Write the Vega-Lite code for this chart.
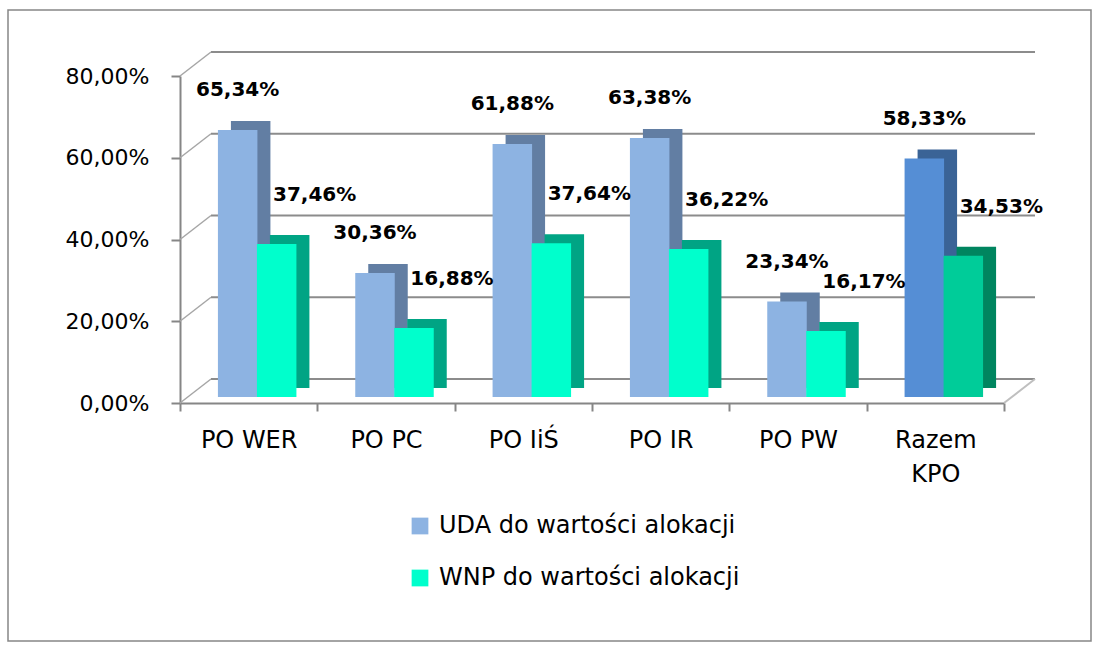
{
  "$schema": "https://vega.github.io/schema/vega-lite/v6.json",
  "autosize": "none",
  "width": 1083,
  "height": 631,
  "padding": {"left": 8, "top": 10, "right": 11, "bottom": 9},
  "background": "#ffffff",
  "config": {
    "locale": {"number": {"decimal": ",", "thousands": " ", "grouping": [3], "currency": ["", " zł"]}},
    "view": {"stroke": "#868686", "strokeWidth": 1.5},
    "font": "DejaVu Sans",
    "axis": {"grid": false, "title": null}
  },
  "datasets": {
    "bars": [
      {"program": "PO WER", "series": "UDA do wartości alokacji", "value": 0.6534},
      {"program": "PO PC", "series": "UDA do wartości alokacji", "value": 0.3036},
      {"program": "PO IiŚ", "series": "UDA do wartości alokacji", "value": 0.6188},
      {"program": "PO IR", "series": "UDA do wartości alokacji", "value": 0.6338},
      {"program": "PO PW", "series": "UDA do wartości alokacji", "value": 0.2334},
      {"program": "Razem KPO", "series": "UDA do wartości alokacji", "value": 0.5833},
      {"program": "PO WER", "series": "WNP do wartości alokacji", "value": 0.3746},
      {"program": "PO PC", "series": "WNP do wartości alokacji", "value": 0.1688},
      {"program": "PO IiŚ", "series": "WNP do wartości alokacji", "value": 0.3764},
      {"program": "PO IR", "series": "WNP do wartości alokacji", "value": 0.3622},
      {"program": "PO PW", "series": "WNP do wartości alokacji", "value": 0.1617},
      {"program": "Razem KPO", "series": "WNP do wartości alokacji", "value": 0.3453}
    ],
    "grid": [{"v": 0}, {"v": 0.2}, {"v": 0.4}, {"v": 0.6}, {"v": 0.8}]
  },
  "layer": [
    {
      "data": {"name": "grid"},
      "mark": {"type": "rule", "color": "#8C8C8C", "strokeWidth": 2, "xOffset": 31, "x2Offset": 31, "yOffset": -24},
      "encoding": {
        "x": {"datum": "PO WER", "bandPosition": 0, "type": "nominal",
          "scale": {"type": "band", "domain": ["PO WER", "PO PC", "PO IiŚ", "PO IR", "PO PW", "Razem KPO"], "range": [172, 996], "paddingInner": 0, "paddingOuter": 0},
          "axis": {"offset": -238, "tickBand": "extent", "domainColor": "#868686", "domainWidth": 2, "tickColor": "#868686", "tickWidth": 2, "tickSize": 8, "labelFontSize": 24, "labelColor": "#000000", "labelPadding": 17, "labelAngle": 0, "labelExpr": "datum.label == 'Razem KPO' ? ['Razem', 'KPO'] : datum.label", "labelLineHeight": 34, "title": null}},
        "x2": {"datum": "Razem KPO", "bandPosition": 1},
        "y": {"field": "v", "type": "quantitative",
          "scale": {"domain": [0, 0.8], "range": [393, 66], "nice": false, "zero": true},
          "axis": {"format": ".2%", "values": [0, 0.2, 0.4, 0.6, 0.8], "offset": -172, "domainColor": "#868686", "domainWidth": 2, "tickColor": "#868686", "tickWidth": 2, "tickSize": 9, "labelFontSize": 22, "labelColor": "#000000", "labelPadding": 22, "title": null}}
      }
    },
    {
      "data": {"name": "grid"},
      "mark": {"type": "rule", "color": "#A6A6A6", "strokeWidth": 1.5, "x2Offset": 31, "y2Offset": -24},
      "encoding": {
        "x": {"datum": "PO WER", "bandPosition": 0, "type": "nominal"},
        "x2": {"datum": "PO WER", "bandPosition": 0},
        "y": {"field": "v", "type": "quantitative", "title": null},
        "y2": {"field": "v"}
      }
    },
    {
      "data": {"name": "grid"},
      "transform": [{"filter": "datum.v == 0"}],
      "mark": {"type": "rule", "color": "#BFBFBF", "strokeWidth": 2, "x2Offset": 31, "y2Offset": -24},
      "encoding": {
        "x": {"datum": "Razem KPO", "bandPosition": 1, "type": "nominal"},
        "x2": {"datum": "Razem KPO", "bandPosition": 1},
        "y": {"field": "v", "type": "quantitative", "title": null},
        "y2": {"field": "v"}
      }
    },
    {
      "data": {"name": "bars"},
      "transform": [{"filter": "datum.series === 'UDA do wartości alokacji'"}],
      "mark": {"type": "bar", "width": {"band": 0.2876}, "xOffset": 2, "yOffset": -15, "y2Offset": -15},
      "encoding": {
        "x": {"field": "program", "type": "nominal", "sort": null, "title": null},
        "y": {"field": "value", "type": "quantitative", "title": null},
        "color": {
          "condition": [{"test": "datum.program === 'Razem KPO'", "value": "#3A6396"}],
          "value": "#627EA3"
        }
      }
    },
    {
      "data": {"name": "bars"},
      "transform": [{"filter": "datum.series === 'WNP do wartości alokacji'"}],
      "mark": {"type": "bar", "width": {"band": 0.2876}, "xOffset": 41, "yOffset": -15, "y2Offset": -15},
      "encoding": {
        "x": {"field": "program", "type": "nominal", "sort": null, "title": null},
        "y": {"field": "value", "type": "quantitative", "title": null},
        "color": {
          "condition": [{"test": "datum.program === 'Razem KPO'", "value": "#00855F"}],
          "value": "#00A484"
        }
      }
    },
    {
      "data": {"name": "bars"},
      "transform": [{"filter": "datum.series === 'UDA do wartości alokacji'"}],
      "mark": {"type": "bar", "width": {"band": 0.2876}, "xOffset": -11, "yOffset": -6, "y2Offset": -6},
      "encoding": {
        "x": {"field": "program", "type": "nominal", "sort": null, "title": null},
        "y": {"field": "value", "type": "quantitative", "title": null},
        "color": {
          "field": "series", "type": "nominal",
          "scale": {"domain": ["UDA do wartości alokacji", "WNP do wartości alokacji"], "range": ["#8DB3E2", "#00FFCC"]},
          "legend": {"orient": "none", "legendX": 400, "legendY": 504, "title": null, "symbolType": "square", "symbolSize": 280, "symbolStrokeWidth": 0, "labelFontSize": 24, "labelColor": "#000000", "labelLimit": 0, "rowPadding": 28, "labelOffset": 7},
          "condition": [{"test": "datum.program === 'Razem KPO'", "value": "#558ED5"}]
        }
      }
    },
    {
      "data": {"name": "bars"},
      "transform": [{"filter": "datum.series === 'WNP do wartości alokacji'"}],
      "mark": {"type": "bar", "width": {"band": 0.2876}, "xOffset": 28, "yOffset": -6, "y2Offset": -6},
      "encoding": {
        "x": {"field": "program", "type": "nominal", "sort": null, "title": null},
        "y": {"field": "value", "type": "quantitative", "title": null},
        "color": {
          "field": "series", "type": "nominal",
          "condition": [{"test": "datum.program === 'Razem KPO'", "value": "#00CC99"}]
        }
      }
    },
    {
      "data": {"name": "bars"},
      "transform": [{"filter": "datum.series === 'UDA do wartości alokacji'"}],
      "mark": {"type": "text", "fontWeight": "bold", "fontSize": 20, "align": "center", "baseline": "middle", "xOffset": -11, "yOffset": -46, "color": "#000000"},
      "encoding": {
        "x": {"field": "program", "type": "nominal", "sort": null, "title": null},
        "y": {"field": "value", "type": "quantitative", "title": null},
        "text": {"field": "value", "type": "quantitative", "format": ".2%"}
      }
    },
    {
      "data": {"name": "bars"},
      "transform": [{"filter": "datum.series === 'WNP do wartości alokacji'"}],
      "mark": {"type": "text", "fontWeight": "bold", "fontSize": 20, "align": "center", "baseline": "middle", "xOffset": 66, "yOffset": -55, "color": "#000000"},
      "encoding": {
        "x": {"field": "program", "type": "nominal", "sort": null, "title": null},
        "y": {"field": "value", "type": "quantitative", "title": null},
        "text": {"field": "value", "type": "quantitative", "format": ".2%"}
      }
    }
  ]
}
